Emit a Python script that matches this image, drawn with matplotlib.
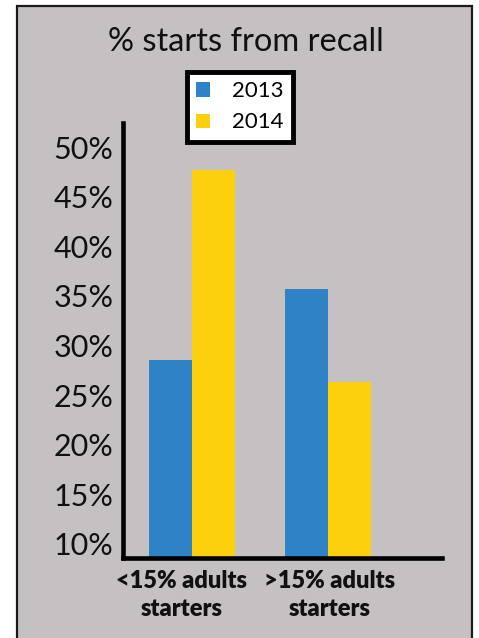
import matplotlib
matplotlib.use("Agg")
import matplotlib.pyplot as plt
import matplotlib.patches as mpatches
import matplotlib.transforms as mtransforms
import numpy as np

# ---- data ----
categories = ["<15% adults\nstarters", ">15% adults\nstarters"]
series_names = ["2013", "2014"]
values_2013 = [28.5, 35.7]
values_2014 = [47.7, 26.3]
yticks = [10, 15, 20, 25, 30, 35, 40, 45, 50]
ytick_labels = ["10%", "15%", "20%", "25%", "30%", "35%", "40%", "45%", "50%"]
title = "% starts from recall"

BG = "#c5c1c2"
BLUE = "#2e83c6"
YELLOW = "#fdd00e"

W, H = 479, 638
fig = plt.figure(figsize=(W / 100, H / 100), dpi=100)
fig.patch.set_facecolor("white")

# outer grey panel with dark frame
panel = mpatches.Rectangle((17 / W, -0.02), (472 - 17) / W, (H - 6) / H + 0.02,
                           transform=fig.transFigure, facecolor=BG,
                           edgecolor="#1a1a1a", linewidth=1.6, zorder=-5)
fig.patches.append(panel)

ax = fig.add_axes([123 / W, (H - 558) / H, (442 - 123) / W, (558 - 123) / H])
ax.set_zorder(2)
ax.patch.set_visible(False)

x = np.arange(len(categories))
bw = 0.316
ax.bar(x - bw / 2, values_2013, width=bw, color=BLUE, label=series_names[0], zorder=2)
ax.bar(x + bw / 2, values_2014, width=bw, color=YELLOW, label=series_names[1], zorder=2)

ax.set_ylim(8.54, 52.47)
ax.set_xlim(-0.507, 1.838)

for s in ["top", "right"]:
    ax.spines[s].set_visible(False)
for s in ["left", "bottom"]:
    ax.spines[s].set_linewidth(3.3)
    ax.spines[s].set_color("black")
    ax.spines[s].set_capstyle("projecting")

ax.set_yticks(yticks)
ax.set_yticklabels(ytick_labels, fontfamily="Lato", fontsize=22, color="#111111")
ax.tick_params(axis="y", length=0, pad=7)

ax.set_xticks(x)
ax.set_xticklabels(categories, fontfamily="Lato", fontweight="heavy", fontsize=17,
                   color="#111111", linespacing=1.32)
ax.tick_params(axis="x", length=0, pad=9)
offsets = [-10, 2]
for lbl, off in zip(ax.get_xticklabels(), offsets):
    lbl.set_transform(lbl.get_transform() + mtransforms.ScaledTranslation(off / 100, 0, fig.dpi_scale_trans))

fig.text(246 / W, (H - 42) / H, title, ha="center", va="center",
         fontfamily="Lato", fontsize=23.5, color="#111111")

leg = ax.legend(loc="upper left", bbox_to_anchor=(187 / W, (H - 72) / H),
                bbox_transform=fig.transFigure,
                prop={"family": "Lato", "size": 16},
                handlelength=0.6, handleheight=0.6, handletextpad=1.0,
                borderpad=0.42, borderaxespad=0, labelspacing=0.5,
                frameon=True, fancybox=False, edgecolor="black",
                facecolor="white", framealpha=1)
leg.get_frame().set_linewidth(3.5)

fig.savefig("out.png", dpi=100, facecolor=fig.get_facecolor())
